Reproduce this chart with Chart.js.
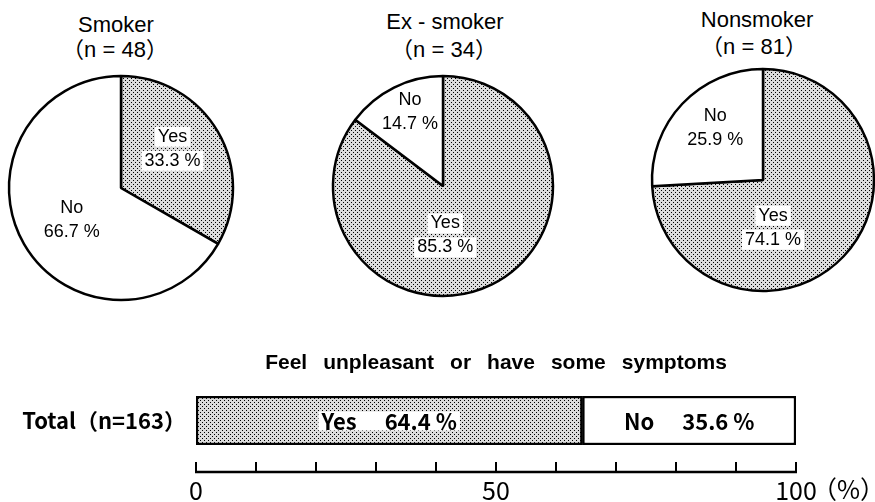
<!DOCTYPE html>
<html>
<head>
<meta charset="utf-8">
<script src="https://cdn.jsdelivr.net/npm/chart.js@4.4.1/dist/chart.umd.min.js"></script>
<style>
  body { margin: 0; background: #fff; width: 875px; height: 502px; overflow: hidden; position: relative;
         font-family: "Liberation Sans", Arial, "Noto Sans CJK JP", sans-serif; color: #000; }
  canvas { position: absolute; }
  .ttl { position: absolute; transform: translate(-50%, -50%); font-size: 22px; white-space: nowrap; line-height: 1; }
</style>
</head>
<body>
<canvas id="pie0" width="240" height="240" style="left:1px;top:68px"></canvas>
<canvas id="pie1" width="240" height="240" style="left:323px;top:66px"></canvas>
<canvas id="pie2" width="240" height="240" style="left:643px;top:60px"></canvas>
<canvas id="bar" width="875" height="182" style="left:0;top:320px"></canvas>

<script>
// Data
const groups = ['Smoker', 'Ex - smoker', 'Nonsmoker'];
const groupN = [48, 34, 81];
const answers = ['Yes', 'No'];
const yesPct = [33.3, 85.3, 74.1];
const noPct = [66.7, 14.7, 25.9];

const totalLabel = 'Total';
const totalN = 163;
const totalYes = [64.4];
const totalNo = [35.6];
const barTitle = 'Feel unpleasant or have some symptoms';
const axisTicks = [0, 10, 20, 30, 40, 50, 60, 70, 80, 90, 100];
const axisLabels = [0, 50, 100];
const axisUnit = '（%）';

// Layout (positions only)
const titlePos = [[116, 25, 115, 50], [445, 22, 444, 50], [757, 20, 754, 47]];
const pieRadius = [112, 110, 111];
// label anchor offsets per pie, in radius units: [yes, no]
const labelOff = [
  [[0.46, -0.35], [-0.44, 0.29]],
  [[0.02, 0.45], [-0.30, -0.67]],
  [[0.09, 0.43], [-0.43, -0.47]]
];

const CJK = '"Noto Sans CJK JP"';
const NARROW = '"Liberation Sans Narrow", ' + CJK + ', sans-serif';

// Titles as DOM text
groups.forEach((g, i) => {
  const p = titlePos[i];
  const a = document.createElement('div');
  a.className = 'ttl';
  a.style.left = p[0] + 'px'; a.style.top = p[1] + 'px';
  a.textContent = g;
  document.body.appendChild(a);
  const b = document.createElement('div');
  b.className = 'ttl';
  b.style.left = p[2] + 'px'; b.style.top = p[3] + 'px';
  b.textContent = '（n = ' + groupN[i] + '）';
  document.body.appendChild(b);
});

function dots(ctx) {
  const c = document.createElement('canvas');
  c.width = 4; c.height = 4;
  const g = c.getContext('2d');
  g.fillStyle = '#dcdcdc';
  g.fillRect(0, 0, 4, 4);
  g.fillStyle = '#000';
  g.fillRect(0, 0, 1, 1);
  g.fillRect(2, 2, 1, 1);
  return ctx.createPattern(c, 'repeat');
}

// text on a white patch (used over dotted fills)
function patchText(ctx, txt, x, y, patch) {
  if (patch) {
    const w = ctx.measureText(txt).width;
    ctx.fillStyle = '#fff';
    ctx.fillRect(x - w / 2 - 3, y - 10, w + 6, 20);
  }
  ctx.fillStyle = '#000';
  ctx.fillText(txt, x, y);
}

const pieLabels = {
  id: 'pieLabels',
  afterDatasetsDraw(chart, args, opts) {
    const ctx = chart.ctx;
    const meta = chart.getDatasetMeta(0);
    const vals = chart.data.datasets[0].data;
    ctx.save();
    ctx.font = '18px "Liberation Sans", Arial, sans-serif';
    ctx.textAlign = 'center';
    ctx.textBaseline = 'middle';
    meta.data.forEach((arc, i) => {
      const off = opts.off[i];
      const x = arc.x + off[0] * arc.outerRadius;
      const y = arc.y + off[1] * arc.outerRadius;
      const shaded = i === 0;
      patchText(ctx, chart.data.labels[i], x, y - 12, shaded);
      patchText(ctx, vals[i].toFixed(1) + ' %', x, y + 12, shaded);
    });
    ctx.restore();
  }
};

groups.forEach((g, i) => {
  const cv = document.getElementById('pie' + i);
  const ctx = cv.getContext('2d');
  new Chart(ctx, {
    type: 'pie',
    data: {
      labels: answers,
      datasets: [{
        data: [yesPct[i], noPct[i]],
        backgroundColor: [dots(ctx), '#fff'],
        borderColor: '#000',
        borderWidth: 2.5,
        hoverOffset: 0
      }]
    },
    options: {
      responsive: false,
      animation: false,
      radius: pieRadius[i],
      plugins: {
        legend: { display: false },
        tooltip: { enabled: false },
        pieLabels: { off: labelOff[i] }
      }
    },
    plugins: [pieLabels]
  });
});

// Bar: labels inside, title, bottom axis with upward ticks
const barDeco = {
  id: 'barDeco',
  afterDraw(chart) {
    const ctx = chart.ctx;
    const xs = chart.scales.x;
    const area = chart.chartArea;
    ctx.save();
    ctx.textBaseline = 'middle';

    // value labels
    ctx.font = 'bold 22px ' + NARROW;
    chart.data.datasets.forEach((ds, i) => {
      const bar = chart.getDatasetMeta(i).data[0];
      const mid = (bar.x + bar.base) / 2;
      const a = ds.label, b = ds.data[0].toFixed(1) + ' %';
      const wa = ctx.measureText(a).width, wb = ctx.measureText(b).width, gap = 28;
      const left = mid - (wa + gap + wb) / 2;
      if (i === 0) {
        ctx.fillStyle = '#fff';
        ctx.fillRect(left - 3, bar.y - 9, wa + gap + wb + 6, 19);
      }
      ctx.fillStyle = '#000';
      ctx.textAlign = 'left';
      ctx.fillText(a, left, bar.y + 1);
      ctx.fillText(b, left + wa + gap, bar.y + 1);
    });

    // title
    ctx.font = 'bold 21px "Liberation Sans", Arial, sans-serif';
    const words = barTitle.split(' ');
    const ws = words.map(w => ctx.measureText(w).width);
    const sp = 16;
    const tw = ws.reduce((s, w) => s + w, 0) + sp * (words.length - 1);
    let tx = (xs.getPixelForValue(0) + xs.getPixelForValue(100)) / 2 - tw / 2;
    ctx.textAlign = 'left';
    words.forEach((w, k) => { ctx.fillText(w, tx, 43); tx += ws[k] + sp; });

    // axis
    const ay = area.bottom + 27;
    ctx.strokeStyle = '#000';
    ctx.lineWidth = 2.5;
    ctx.beginPath();
    ctx.moveTo(xs.getPixelForValue(0) - 1, ay);
    ctx.lineTo(xs.getPixelForValue(100) + 1, ay);
    ctx.stroke();
    ctx.lineWidth = 2;
    axisTicks.forEach(v => {
      const px = xs.getPixelForValue(v);
      ctx.beginPath();
      ctx.moveTo(px, ay);
      ctx.lineTo(px, ay - 10);
      ctx.stroke();
    });
    ctx.font = '25px ' + NARROW;
    ctx.textAlign = 'center';
    axisLabels.forEach(v => ctx.fillText(String(v), xs.getPixelForValue(v), ay + 18));
    ctx.font = '25px ' + CJK;
    ctx.textAlign = 'left';
    ctx.fillText(axisUnit, xs.getPixelForValue(100) + 16, ay + 17);
    ctx.restore();
  }
};

const barCtx = document.getElementById('bar').getContext('2d');
new Chart(barCtx, {
  type: 'bar',
  data: {
    labels: [totalLabel + '（n=' + totalN + '）'],
    datasets: [
      { label: answers[0], data: totalYes, backgroundColor: dots(barCtx) },
      { label: answers[1], data: totalNo, backgroundColor: '#fff' }
    ]
  },
  options: {
    indexAxis: 'y',
    responsive: false,
    animation: false,
    layout: { padding: { top: 76, bottom: 57, left: 0, right: 79 } },
    datasets: {
      bar: { borderColor: '#000', borderWidth: 2.5, borderSkipped: false, barPercentage: 1, categoryPercentage: 1 }
    },
    plugins: { legend: { display: false }, tooltip: { enabled: false } },
    scales: {
      x: { stacked: true, min: 0, max: 100, display: false },
      y: {
        stacked: true,
        grid: { display: false, drawTicks: false },
        border: { display: false },
        ticks: { color: '#000', padding: 10, font: { family: NARROW, size: 22, weight: 'bold' } },
        afterFit(s) { s.width = 196; }
      }
    }
  },
  plugins: [barDeco]
});
</script>
</body>
</html>
